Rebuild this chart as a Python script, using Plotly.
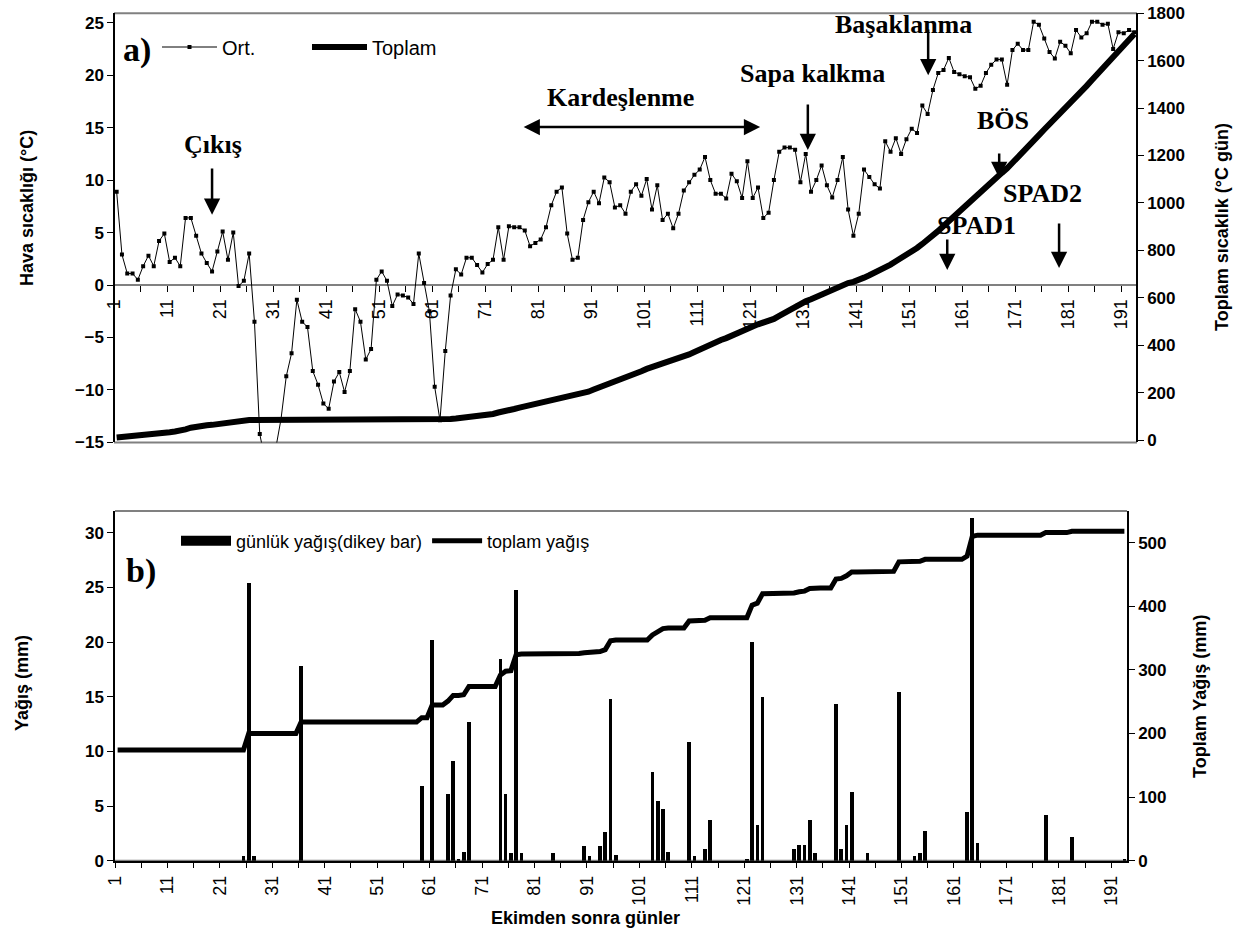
import plotly.graph_objects as go

W, H = 1236, 933
def px(x): return x / W
def py(y): return 1 - y / H

# ---------------- data: panel a ----------------
days = list(range(1, 194))
temp_mean = [
    8.9, 2.9, 1.1, 1.1, 0.5, 1.8, 2.8, 1.8, 4.2, 4.9,
    2.2, 2.6, 1.8, 6.4, 6.4, 4.7, 3.0, 2.1, 1.3, 3.2,
    5.1, 2.4, 5.0, -0.1, 0.4, 3.0, -3.5, -14.2, -16.7, -17.0,
    -15.6, -12.8, -8.7, -6.5, -1.4, -3.5, -4.0, -8.2, -9.5, -11.3,
    -11.8, -9.2, -8.3, -10.2, -8.2, -2.3, -3.5, -7.1, -6.1, 0.5,
    1.3, 0.4, -2.0, -0.9, -1.0, -1.2, -1.8, 3.0, 0.2, -2.5,
    -9.7, -12.9, -6.3, -1.0, 1.5, 1.0, 2.6, 2.6, 1.9, 1.2,
    2.0, 2.4, 5.5, 2.4, 5.6, 5.5, 5.5, 5.2, 3.7, 4.0,
    4.35, 5.5, 7.6, 8.9, 9.3, 4.9, 2.4, 2.6, 6.2, 7.9,
    8.9, 7.8, 10.25, 9.8, 7.4, 7.6, 6.8, 8.9, 9.6, 8.5,
    10.1, 7.2, 9.5, 6.2, 6.8, 5.4, 6.8, 9.0, 9.8, 10.5,
    11.0, 12.2, 10.0, 8.7, 8.7, 8.25, 10.6, 9.9, 8.3, 11.8,
    8.3, 9.3, 6.4, 6.9, 10.0, 12.7, 13.1, 13.1, 12.9, 9.8,
    12.5, 8.9, 10.0, 11.4, 9.5, 8.35, 10.0, 12.2, 7.2, 4.7,
    6.8, 11.0, 10.3, 9.6, 9.2, 13.7, 12.7, 14.0, 12.5, 13.9,
    14.9, 14.5, 17.1, 16.3, 18.6, 20.2, 20.5, 21.65, 20.3, 20.1,
    19.9, 19.8, 18.7, 19.0, 20.2, 21.0, 21.5, 21.5, 19.1, 22.4,
    23.0, 22.4, 22.4, 25.1, 24.8, 23.5, 22.2, 21.6, 23.2, 22.8,
    22.1, 24.3, 23.6, 24.0, 25.1, 25.1, 24.8, 24.9, 22.5, 24.1,
    24.0, 24.3, 24.1,
]
temp_total = [
    11, 13, 14, 15, 16, 17, 20, 22, 26, 31,
    33, 36, 38, 45, 52, 57, 60, 62, 64, 67,
    72, 75, 80, 80, 81, 84, 84, 84, 84, 84,
    84, 84, 84, 84, 84, 84, 84, 84, 84, 84,
    84, 84, 84, 84, 84, 84, 84, 84, 84, 85,
    86, 87, 87, 87, 87, 87, 87, 89, 89, 89,
    89, 89, 89, 89, 91, 93, 96, 99, 102, 104,
    107, 110, 116, 119, 125, 131, 137, 142, 146, 150,
    155, 160, 166, 173, 180, 184, 187, 190, 196, 204,
    213, 221, 231, 241, 248, 256, 263, 272, 281, 290,
    300, 307, 317, 323, 330, 335, 342, 351, 361, 371,
    382, 394, 404, 413, 422, 430, 441, 451, 459, 471,
    479, 488, 494, 501, 511, 524, 537, 550, 563, 573,
    585, 594, 604, 615, 625, 633, 643, 655, 662, 667,
    674, 685, 695, 705, 714, 728, 740, 754, 767, 781,
    796, 810, 827, 844, 862, 882, 903, 924, 945, 965,
    985, 1005, 1024, 1043, 1063, 1084, 1105, 1127, 1146, 1168,
    1191, 1214, 1236, 1261, 1286, 1310, 1332, 1354, 1377, 1400,
    1422, 1446, 1470, 1494, 1519, 1544, 1569, 1594, 1616, 1640,
    1664, 1689, 1713,
]

# ---------------- data: panel b ----------------
rain_days = [25, 26, 27, 36, 59, 61, 64, 65, 66, 67, 68, 74, 75, 76, 77, 78, 84,
             90, 91, 93, 94, 95, 96, 103, 104, 105, 106, 110, 111, 113, 114,
             121, 122, 123, 124, 130, 131, 132, 133, 134, 138, 139, 140, 141, 144,
             150, 153, 154, 155, 163, 164, 165, 178, 183, 193]
rain_mm = [0.4, 25.4, 0.4, 17.8, 6.8, 20.2, 6.1, 9.1, 0.2, 0.8, 12.7, 18.5, 6.1, 0.7, 24.8, 0.7, 0.7,
           1.3, 0.4, 1.3, 2.6, 14.8, 0.5, 8.1, 5.5, 4.7, 0.8, 10.9, 0.4, 1.1, 3.7,
           0.2, 20.0, 3.3, 15.0, 1.1, 1.4, 1.4, 3.7, 0.7, 14.3, 1.1, 3.3, 6.3, 0.7,
           15.4, 0.4, 0.7, 2.7, 4.5, 31.4, 1.6, 4.2, 2.2, 0.2]
rain_total = (
    [174] * 25 + [200] * 10 + [218] * 23 +
    [225, 225, 245, 245, 245, 251, 260, 260, 261, 274, 274, 274, 274, 274, 274,
     292, 298, 299, 324, 325, 325, 325, 325, 325, 325, 326, 326, 326, 326, 326, 326,
     327, 328, 328, 329, 332, 346, 347, 347, 347, 347, 347, 347, 347, 355, 360, 365,
     366, 366, 366, 366, 377, 377, 377, 378, 382, 382, 382, 382, 382, 382, 382, 382,
     402, 405, 420, 420, 420, 420, 420, 420, 421, 423, 424, 428, 429, 429, 429, 429,
     443, 444, 448, 454, 454, 454, 455, 455, 455, 455, 455, 455, 470, 470, 470, 470,
     471, 474, 474, 474, 474, 474, 474, 474, 474, 479, 510, 512] +
    [512] * 12 + [516] * 5 + [518] * 11
)

tick_bounds = [0.5 + 10 * i for i in range(20)]
tick_text = [str(1 + 10 * i) for i in range(20)]
minor_bounds = [5.5 + 10 * i for i in range(19)]
all_bounds = [0.5 + 5 * i for i in range(39)]

SANS = "Liberation Sans"
SERIF = "Liberation Serif"

fig = go.Figure()

# ---- panel a traces ----
fig.add_trace(go.Scatter(
    x=days, y=temp_mean, name="Ort.", mode="lines+markers",
    line=dict(color="black", width=1), marker=dict(color="black", size=4, symbol="square"),
    xaxis="x", yaxis="y", legend="legend"))
fig.add_trace(go.Scatter(
    x=days, y=temp_total, name="Toplam", mode="lines",
    line=dict(color="black", width=6), xaxis="x", yaxis="y2", legend="legend"))

# ---- panel b traces ----
fig.add_trace(go.Bar(
    x=rain_days, y=rain_mm, name="günlük yağış(dikey bar)", width=0.7, showlegend=False,
    marker=dict(color="black", line=dict(width=0)), xaxis="x2", yaxis="y3"))
# legend proxy for the bars (wide black block, as in the original legend)
fig.add_trace(go.Scatter(
    x=[None], y=[None], name="günlük yağış(dikey bar)", mode="lines",
    line=dict(color="black", width=10), xaxis="x2", yaxis="y3", legend="legend2"))
fig.add_trace(go.Scatter(
    x=days, y=rain_total, name="toplam yağış", mode="lines",
    line=dict(color="black", width=5), xaxis="x2", yaxis="y4", legend="legend2"))

# domains
xa_dom = [px(114), px(1137)]
ya_dom = [py(442.4), py(13.3)]
xb_dom = [px(115), px(1127)]
yb_dom = [py(860.7), py(511)]
zero_pos = py(285)

tick_font = dict(family=SANS, size=17, color="black", weight="bold")
xtick_font = dict(family=SANS, size=18, color="black")

# inner half of the "cross" tick marks on the temperature axes
inner_y = dict(domain=ya_dom, range=[-15, 25.9], anchor="free", overlaying="y",
               tickmode="array", tickvals=list(range(-15, 26, 5)), ticks="inside", ticklen=6,
               tickcolor="black", showticklabels=False, showline=False, showgrid=False,
               zeroline=False, automargin=False)
inner_y2 = dict(domain=ya_dom, range=[-10, 1800], anchor="free", overlaying="y", side="right",
                tickmode="array", tickvals=list(range(0, 1801, 200)), ticks="inside", ticklen=5,
                tickcolor="black", showticklabels=False, showline=False, showgrid=False,
                zeroline=False, automargin=False)

fig.update_layout(
    template="none",
    width=W, height=H, margin=dict(l=0, r=0, t=0, b=0, autoexpand=False),
    font=dict(family=SANS, color="black"),
    paper_bgcolor="white", plot_bgcolor="white", showlegend=True, bargap=0,
    xaxis=dict(domain=xa_dom, range=[0.5, 193.5], anchor="free", position=zero_pos,
               tickmode="array", tickvals=tick_bounds, ticktext=tick_text, tickangle=-90,
               ticks="outside", ticklen=6, tickcolor="black", tickwidth=1,
               minor=dict(tickvals=minor_bounds, ticks="outside", ticklen=6, tickcolor="black"),
               showline=True, linecolor="#808080", linewidth=2, showgrid=False, zeroline=False,
               tickfont=xtick_font, layer="below traces", automargin=False),
    xaxis3=dict(domain=xa_dom, range=[0.5, 193.5], anchor="free", position=zero_pos,
                overlaying="x", tickmode="array", tickvals=all_bounds, ticks="inside", ticklen=6,
                tickcolor="black", showticklabels=False, showline=False, showgrid=False,
                zeroline=False, layer="below traces", automargin=False),
    yaxis=dict(domain=ya_dom, range=[-15, 25.9], anchor="free", position=xa_dom[0],
               tickmode="array", tickvals=list(range(-15, 26, 5)), ticks="outside", ticklen=6,
               tickcolor="black", showline=True, linecolor="black", linewidth=1.5,
               showgrid=False, zeroline=False, tickfont=tick_font, automargin=False),
    yaxis5=dict(inner_y, position=xa_dom[0]),
    yaxis2=dict(domain=ya_dom, range=[-10, 1800], anchor="free", position=xa_dom[1],
                overlaying="y", side="right", tickmode="array", tickvals=list(range(0, 1801, 200)),
                ticks="outside", ticklen=6, tickcolor="black", showline=True, linecolor="black",
                linewidth=1.5, showgrid=False, zeroline=False, tickfont=tick_font, automargin=False),
    yaxis6=dict(inner_y2, position=xa_dom[1]),
    xaxis2=dict(domain=xb_dom, range=[0.5, 193.5], anchor="y3",
                tickmode="array", tickvals=tick_bounds, ticktext=tick_text, tickangle=-90,
                ticks="outside", ticklen=6, tickcolor="black",
                minor=dict(tickvals=minor_bounds, ticks="outside", ticklen=6, tickcolor="black"),
                showline=True, linecolor="black", linewidth=1.5, showgrid=False, zeroline=False,
                tickfont=xtick_font, automargin=False),
    yaxis3=dict(domain=yb_dom, range=[0, 32], anchor="x2", tickmode="array",
                tickvals=list(range(0, 31, 5)), ticks="outside", ticklen=6, tickcolor="black",
                showline=True, linecolor="black", linewidth=1.5, showgrid=False, zeroline=False,
                tickfont=tick_font, automargin=False),
    yaxis4=dict(domain=yb_dom, range=[0, 550], anchor="x2", overlaying="y3", side="right",
                tickmode="array", tickvals=list(range(0, 501, 100)), ticks="outside", ticklen=6,
                tickcolor="black", showline=True, linecolor="black", linewidth=1.5,
                showgrid=False, zeroline=False, tickfont=tick_font, automargin=False),
    legend=dict(orientation="h", x=px(157), y=py(47), xanchor="left", yanchor="middle",
                font=dict(family=SANS, size=20, color="black"), itemwidth=55,
                bgcolor="rgba(0,0,0,0)", entrywidth=80, entrywidthmode="pixels"),
    legend2=dict(orientation="h", x=px(176), y=py(541), xanchor="left", yanchor="middle",
                 font=dict(family=SANS, size=18, color="black"), itemwidth=50,
                 bgcolor="rgba(0,0,0,0)"),
)

# frame lines (top/bottom of plot areas)
for xr, yr in (("x domain", "y domain"), ("x2 domain", "y3 domain")):
    for yv in (0, 1):
        fig.add_shape(type="line", xref=xr, yref=yr, x0=0, x1=1, y0=yv, y1=yv,
                      line=dict(color="#808080", width=2), layer="below")

# ---- annotations panel a ----
def label(text, x, y, size=26, **kw):
    fig.add_annotation(text=f"<b>{text}</b>", x=x, y=y, xref="x", yref="y", showarrow=False,
                       xanchor="center", yanchor="middle",
                       font=dict(family=SERIF, size=size, color="black"), **kw)

def arrow(x, y_from, y_to, **kw):
    fig.add_annotation(text="", x=x, y=y_to, ax=x, ay=y_from, xref="x", yref="y",
                       axref="x", ayref="y", showarrow=True, arrowhead=2, arrowsize=1.3,
                       arrowwidth=2.5, arrowcolor="black", **kw)

label("a)", 4.8, 22.4, size=34)
label("Çıkış", 19.2, 13.4)
arrow(19.0, 11.25, 6.7)
label("Kardeşlenme", 96, 17.9)
fig.add_annotation(text="", x=122.4, y=15.06, ax=77.5, ay=15.06, xref="x", yref="y",
                   axref="x", ayref="y", showarrow=True, arrowhead=2, startarrowhead=2,
                   arrowside="end+start", arrowsize=1.3, startarrowsize=1.3,
                   arrowwidth=2.5, arrowcolor="black")
label("Sapa kalkma", 132.2, 20.2)
arrow(131.4, 17.35, 12.87)
label("Başaklanma", 149.4, 24.8)
arrow(154.1, 24.5, 20.0)
label("BÖS", 168.2, 15.7)
arrow(167.5, 12.68, 10.2)
label("SPAD2", 175.6, 8.77)
label("SPAD1", 163.3, 5.72)
arrow(157.7, 4.48, 1.43)
arrow(178.8, 6.0, 1.62)

# ---- panel b label ----
fig.add_annotation(text="<b>b)</b>", x=5.5, y=26.5, xref="x2", yref="y3", showarrow=False,
                   xanchor="center", yanchor="middle",
                   font=dict(family=SERIF, size=34, color="black"))

# ---- axis titles ----
def title(text, x, y, angle=-90, size=18):
    fig.add_annotation(text=f"<b>{text}</b>", x=px(x), y=py(y), xref="paper", yref="paper",
                       showarrow=False, textangle=angle, xanchor="center", yanchor="middle",
                       font=dict(family=SANS, size=size, color="black"))

title("Hava sıcaklığı (°C)", 27, 208)
title("Toplam sıcaklık (°C gün)", 1222, 227)
title("Yağış (mm)", 22, 683)
title("Toplam Yağış (mm)", 1200, 697)
title("Ekimden sonra günler", 585, 918, angle=0)

fig.write_html("out.html", config={"displayModeBar": False},
               post_script="document.body.style.margin='0px';")
